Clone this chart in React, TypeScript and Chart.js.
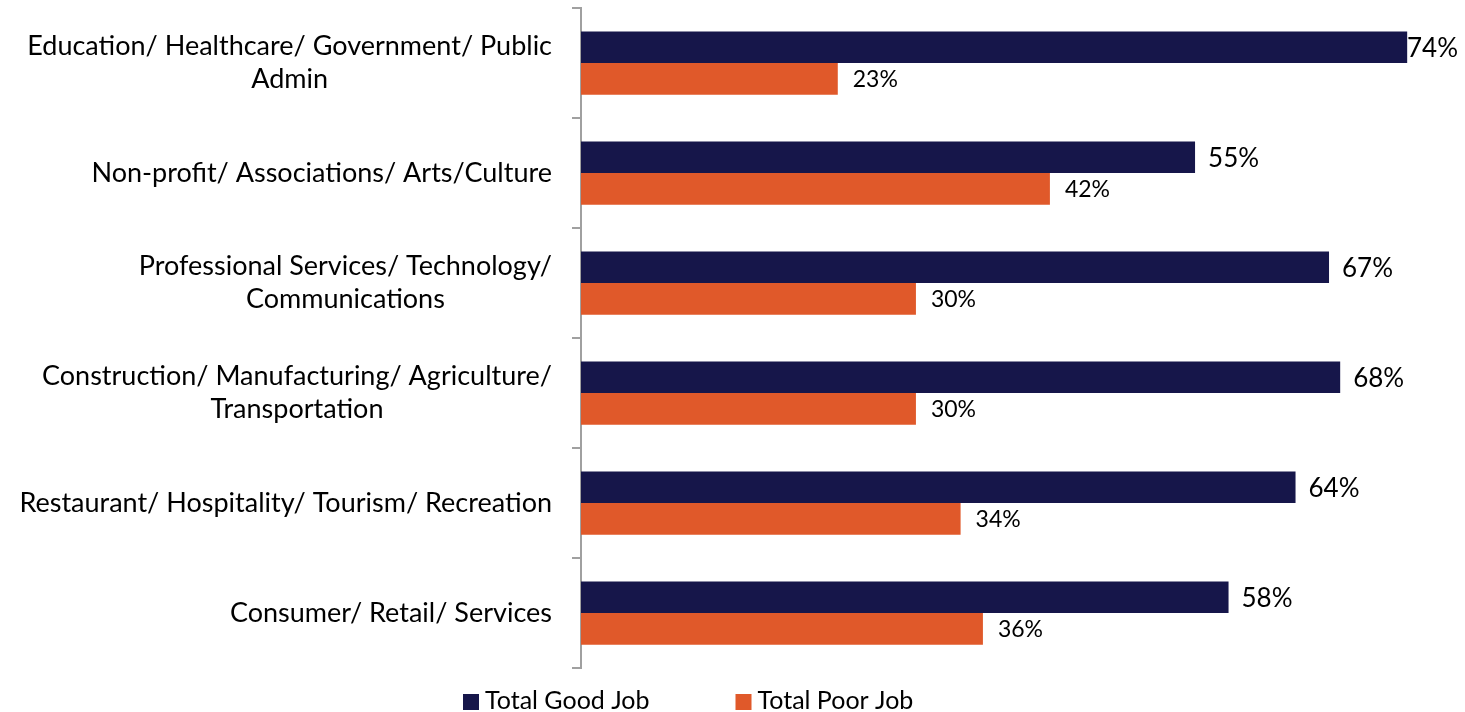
import React, { useEffect, useRef } from "react";
import { Chart, registerables } from "chart.js";

Chart.register(...registerables);

// ---- data ----
const categories: string[][] = [
  ["Education/ Healthcare/ Government/ Public", "Admin"],
  ["Non-profit/ Associations/ Arts/Culture"],
  ["Professional Services/ Technology/", "Communications"],
  ["Construction/ Manufacturing/ Agriculture/", "Transportation"],
  ["Restaurant/ Hospitality/ Tourism/ Recreation"],
  ["Consumer/ Retail/ Services"],
];
const seriesNames = ["Total Good Job", "Total Poor Job"];
const goodJob = [74, 55, 67, 68, 64, 58];
const poorJob = [23, 42, 30, 30, 34, 36];

const COLORS = ["#16164A", "#E0592A"];
const FONT = "Lato, 'Open Sans', sans-serif";
const CAT_FONT_SIZE = 27;
const VALUE_FONT_SIZES = [26, 23];
const LEGEND_FONT_SIZE = 25;

const categoryLabelsPlugin = {
  id: "categoryLabels",
  afterDraw(chart: any) {
    const { ctx } = chart;
    const yScale = chart.scales.y;
    const rightEdge = chart.chartArea.left - 29;
    const lineH = 33;
    ctx.save();
    ctx.font = `${CAT_FONT_SIZE}px ${FONT}`;
    ctx.fillStyle = "#000000";
    ctx.textBaseline = "middle";
    ctx.textAlign = "center";
    (chart.data.labels as string[][]).forEach((lines, i) => {
      const cy = yScale.getPixelForValue(i);
      const w = Math.max(...lines.map((l) => ctx.measureText(l).width));
      const cx = rightEdge - w / 2;
      const y0 = cy - ((lines.length - 1) * lineH) / 2;
      lines.forEach((l, j) => ctx.fillText(l, cx, y0 + j * lineH));
    });
    ctx.restore();
  },
};

const valueLabelsPlugin = {
  id: "valueLabels",
  afterDatasetsDraw(chart: any) {
    const { ctx } = chart;
    ctx.save();
    ctx.fillStyle = "#000000";
    ctx.textBaseline = "middle";
    ctx.textAlign = "left";
    chart.data.datasets.forEach((ds: any, di: number) => {
      const meta = chart.getDatasetMeta(di);
      ctx.font = `${VALUE_FONT_SIZES[di]}px ${FONT}`;
      meta.data.forEach((bar: any, i: number) => {
        const text = `${ds.data[i]}%`;
        const w = ctx.measureText(text).width;
        let x = bar.x + (di === 0 ? 13 : 15);
        x = Math.min(x, chart.width - w - 7);
        ctx.fillText(text, x, bar.y + 1);
      });
    });
    ctx.restore();
  },
};

const legendPlugin = {
  id: "customLegend",
  afterDraw(chart: any) {
    const { ctx } = chart;
    ctx.save();
    ctx.font = `${LEGEND_FONT_SIZE}px ${FONT}`;
    ctx.textBaseline = "middle";
    ctx.textAlign = "left";
    let x = 463;
    const boxY = 694;
    const box = 16;
    chart.data.datasets.forEach((ds: any) => {
      ctx.fillStyle = ds.backgroundColor;
      ctx.fillRect(x, boxY, box, box);
      ctx.fillStyle = "#000000";
      const tx = x + box + 6;
      ctx.fillText(ds.label, tx, 701);
      x = tx + ctx.measureText(ds.label).width + 86;
    });
    ctx.restore();
  },
};

export default function App() {
  const canvasRef = useRef<HTMLCanvasElement | null>(null);

  useEffect(() => {
    if (!canvasRef.current) return;
    const chart = new Chart(canvasRef.current, {
      type: "bar",
      data: {
        labels: categories,
        datasets: [
          {
            label: seriesNames[0],
            data: goodJob,
            backgroundColor: COLORS[0],
            categoryPercentage: 0.575,
            barPercentage: 1.0,
          },
          {
            label: seriesNames[1],
            data: poorJob,
            backgroundColor: COLORS[1],
            categoryPercentage: 0.575,
            barPercentage: 1.0,
          },
        ],
      },
      options: {
        indexAxis: "y",
        animation: false,
        responsive: false,
        maintainAspectRatio: false,
        layout: { padding: { top: 8, bottom: 44, right: 2, left: 0 } },
        plugins: {
          legend: { display: false },
          tooltip: { enabled: false },
        },
        scales: {
          x: {
            display: false,
            min: 0,
            max: 79,
          },
          y: {
            offset: true,
            ticks: { display: false },
            grid: {
              offset: true,
              drawOnChartArea: false,
              drawTicks: true,
              tickLength: 9,
              color: "#A0A0A0",
              lineWidth: 2,
            },
            border: { display: true, color: "#A0A0A0", width: 2 },
            afterFit: (scale: any) => {
              scale.width = 581;
            },
          },
        },
      },
      plugins: [categoryLabelsPlugin, valueLabelsPlugin, legendPlugin],
    });
    let alive = true;
    if ((document as any).fonts) {
      (document as any).fonts
        .load(`${CAT_FONT_SIZE}px Lato`)
        .then(() => {
          if (alive) chart.draw();
        })
        .catch(() => {});
    }
    return () => {
      alive = false;
      chart.destroy();
    };
  }, []);

  return (
    <div style={{ position: "absolute", left: 0, top: 0, width: 1465, height: 712, background: "#ffffff" }}>
      <canvas ref={canvasRef} width={1465} height={712} style={{ display: "block", width: 1465, height: 712 }} />
    </div>
  );
}
